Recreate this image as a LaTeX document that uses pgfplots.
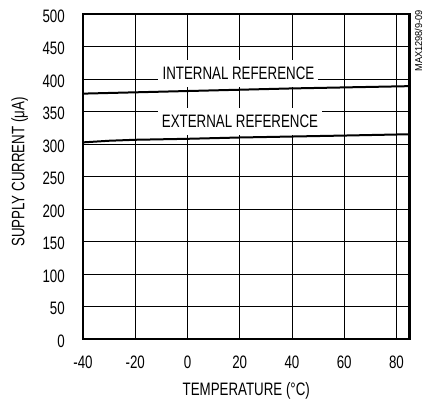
\documentclass[border=0pt]{standalone}
\usepackage{fontspec}
\setmainfont{Liberation Sans}[FakeStretch=0.74]
\newfontfamily\tagfont{Liberation Sans}[FakeStretch=0.92]
\usepackage{pgfplots}
\pgfplotsset{compat=1.18}
\begin{document}
\fontsize{18bp}{21bp}\selectfont
\begin{tikzpicture}
\path (-83bp,-59bp) rectangle (356bp,339bp);
\begin{axis}[
 scale only axis, width=326.5bp, height=325bp,
 xmin=-40, xmax=85, ymin=0, ymax=500,
 xtick={-40,-20,0,20,40,60,80}, xticklabels={-40,-20,0,20,40,60,80},
 ytick={0,50,...,500},
 grid=major, major grid style={black, line width=0.7bp},
 major tick length=0pt,
 axis line style={line width=2.4bp},
 /pgf/number format/assume math mode=true,
 tick label style={font=\fontsize{18bp}{21bp}\selectfont},
 xticklabel style={anchor=base, inner sep=0pt, yshift=-29bp},
 yticklabel style={anchor=east, inner sep=0pt, xshift=-18bp, yshift=-2bp},
 every axis x label/.style={at={(rel axis cs:0.5,0)}, anchor=base, yshift=-56bp, inner sep=0pt},
 every axis y label/.style={at={(rel axis cs:0,0.5)}, xshift=-58.5bp, yshift=4.5bp, rotate=90, anchor=base, inner sep=0pt},
 xlabel={TEMPERATURE (°C)}, ylabel={SUPPLY CURRENT (μA)},
]
\node[fill=white, inner sep=0pt, minimum width=160bp, minimum height=27bp] at (axis cs:19.5,408.5) {INTERNAL REFERENCE};
\node[fill=white, inner sep=0pt, minimum width=164bp, minimum height=27bp] at (axis cs:20.1,334.6) {EXTERNAL REFERENCE};
\addplot[black, line width=2bp] coordinates {(-40,377.5) (0,381.5) (40,385.5) (85,389)};
\addplot[black, line width=2bp] coordinates {(-40,302.5) (-30,305) (-20,306.5) (0,308) (20,310) (40,311.5) (60,313) (85,315)};
\end{axis}
\node[rotate=90, anchor=east, inner sep=0pt, font=\tagfont\fontsize{10bp}{12bp}\selectfont] at ([xshift=9bp,yshift=4bp]current axis.north east) {MAX1298/9-09};
\end{tikzpicture}
\end{document}
